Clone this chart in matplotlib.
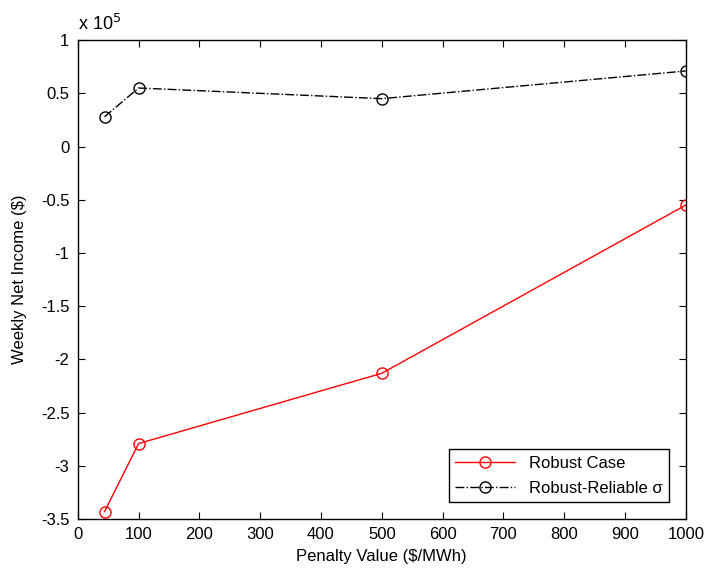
import matplotlib
matplotlib.use('Agg')
import matplotlib.pyplot as plt

plt.rcParams['font.family'] = ['Liberation Sans', 'DejaVu Sans']

# penalty values ($/MWh) and weekly net income (x 10^5 $)
penalty = [44, 100, 500, 1000]
robust_case = [-3.43, -2.79, -2.13, -0.55]
robust_reliable = [0.28, 0.55, 0.45, 0.71]

x_ticks = [0, 100, 200, 300, 400, 500, 600, 700, 800, 900, 1000]
y_ticks = [1, 0.5, 0, -0.5, -1, -1.5, -2, -2.5, -3, -3.5]

fig = plt.figure(figsize=(7.07, 5.73), dpi=100)
ax = fig.add_axes([0.110, 0.094, 0.860, 0.836])

ax.plot(penalty, robust_case, color='red', lw=1, marker='o', ms=8,
        mfc='none', mew=1, label='Robust Case')
ax.plot(penalty, robust_reliable, color='black', lw=1, ls='-.', marker='o', ms=8,
        mfc='none', mew=1, label='Robust-Reliable \u03c3')

ax.set_xlim(0, 1000)
ax.set_ylim(-3.5, 1)
ax.set_xticks(x_ticks)
ax.set_yticks(y_ticks)
ax.set_yticklabels([('%g' % v) for v in y_ticks])
ax.tick_params(direction='in', length=5, labelsize=12, top=True, right=True, pad=6)
for s in ax.spines.values():
    s.set_linewidth(1)

ax.set_xlabel('Penalty Value ($/MWh)', fontsize=12, labelpad=5)
ax.set_ylabel('Weekly Net Income ($)', fontsize=12, labelpad=10)
ax.text(0.0, 1.012, r'x 10$^5$', transform=ax.transAxes, fontsize=13,
        ha='left', va='bottom')

leg = ax.legend(loc='lower right', fontsize=12, fancybox=False, framealpha=1,
                edgecolor='black', borderaxespad=1.0, handlelength=3.6,
                labelspacing=0.6)
leg.get_frame().set_linewidth(1)

fig.savefig('out.png', dpi=100)
